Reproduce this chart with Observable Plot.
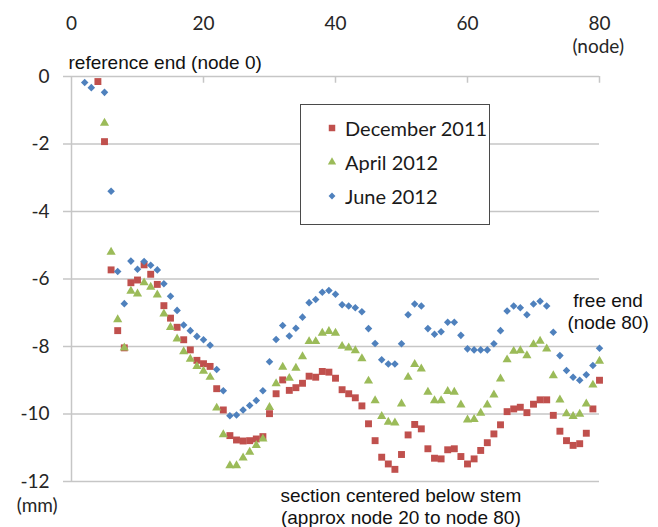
<!DOCTYPE html>
<html>
<head>
<meta charset="utf-8">
<script src="https://cdn.jsdelivr.net/npm/d3@7"></script>
<script src="https://cdn.jsdelivr.net/npm/@observablehq/plot@0.6"></script>
<style>
  html, body { margin: 0; padding: 0; background: #fff; }
  #wrap { position: relative; width: 658px; height: 527px; }
  #legend { position: absolute; left: 300px; top: 104px; width: 190px; height: 121px;
    border: 1.5px solid #4a4a4a; background: #fff; box-sizing: border-box;
    font-family: Lato, "Open Sans", sans-serif; font-size: 20px; color: #1a1a1a; }
  #legend .row { position: absolute; left: 0; height: 24px; display: flex; align-items: center; white-space: nowrap; }
  #legend svg { margin-left: 26px; margin-right: 8px; flex: none; }
</style>
</head>
<body>
<div id="wrap"></div>
<script>
const nodes = [2,3,4,5,6,7,8,9,10,11,12,13,14,15,16,17,18,19,20,21,22,23,24,25,26,27,28,29,30,31,32,33,34,35,36,37,38,39,40,41,42,43,44,45,46,47,48,49,50,51,52,53,54,55,56,57,58,59,60,61,62,63,64,65,66,67,68,69,70,71,72,73,74,75,76,77,78,79,80];

const december2011 = [null,null,-0.15,-1.93,-5.73,-7.53,-8.04,-6.11,-6.03,-5.58,-5.86,-6.16,-6.79,-7.16,-7.43,-7.80,-8.10,-8.41,-8.51,-8.59,-9.25,-9.88,-10.64,-10.77,-10.80,-10.79,-10.74,-10.67,-9.99,-9.40,-8.99,-9.30,-9.22,-9.09,-8.88,-8.91,-8.74,-8.76,-8.94,-9.28,-9.40,-9.52,-9.76,-10.29,-10.79,-11.28,-11.48,-11.64,-11.20,-10.62,-10.31,-10.44,-11.03,-11.31,-11.33,-11.06,-11.03,-11.26,-11.48,-11.33,-11.08,-10.85,-10.59,-10.32,-9.93,-9.85,-9.80,-9.96,-9.71,-9.58,-9.58,-10.04,-10.51,-10.79,-10.93,-10.88,-10.57,-9.85,-9.00];

const april2012 = [null,null,null,-1.38,-5.20,-7.20,-8.04,-6.36,-6.44,-6.11,-6.24,-6.47,-7.03,-7.43,-7.77,-8.15,-8.37,-8.59,-8.73,-8.91,-9.82,-10.61,-11.53,-11.53,-11.30,-11.13,-10.93,-10.74,-9.80,-9.10,-8.61,-8.94,-8.64,-8.30,-7.85,-7.85,-7.60,-7.55,-7.60,-7.99,-8.04,-8.12,-8.36,-9.02,-9.60,-10.07,-10.24,-10.26,-9.70,-8.91,-8.53,-8.66,-9.35,-9.60,-9.60,-9.33,-9.35,-9.73,-10.17,-10.16,-9.97,-9.73,-9.43,-8.96,-8.39,-8.14,-8.12,-8.27,-7.94,-7.84,-8.07,-8.86,-9.58,-9.99,-10.07,-10.00,-9.70,-9.14,-8.43];

const june2012 = [-0.18,-0.33,null,-0.47,-3.40,-5.78,-6.73,-5.47,-5.71,-5.48,-5.59,-5.73,-6.14,-6.51,-6.93,-7.36,-7.53,-7.70,-7.80,-7.96,-8.68,-9.31,-10.05,-10.03,-9.88,-9.75,-9.60,-9.31,-8.45,-7.79,-7.38,-7.69,-7.46,-7.13,-6.70,-6.61,-6.39,-6.34,-6.45,-6.76,-6.80,-6.85,-6.97,-7.47,-7.91,-8.39,-8.52,-8.52,-7.92,-7.06,-6.74,-6.80,-7.47,-7.64,-7.56,-7.28,-7.28,-7.67,-8.07,-8.10,-8.10,-8.10,-7.92,-7.53,-6.95,-6.80,-6.85,-7.06,-6.74,-6.66,-6.80,-7.58,-8.27,-8.71,-8.91,-9.00,-8.84,-8.56,-8.05];

const seriesNames = ["December 2011", "April 2012", "June 2012"];
const xTicks = [0, 20, 40, 60, 80];
const yTicks = [0, -2, -4, -6, -8, -10, -12];

const colors = ["#C0504D", "#9BBB59", "#4F81BD"];
const symbols = ["square", "triangle", "diamond2"];
const radii = [3.9, 3.4, 3.4];

function rowsOf(values) {
  const out = [];
  values.forEach((v, i) => { if (v !== null) out.push({node: nodes[i], value: v}); });
  return out;
}
const seriesData = [december2011, april2012, june2012].map(rowsOf);

const grid = "#c6c6c6";
const textFont = "'Liberation Sans', Arial, sans-serif";
const tickFont = "Lato, 'Open Sans', sans-serif";

const chart = Plot.plot({
  width: 658,
  height: 527,
  marginLeft: 71,
  marginRight: 59,
  marginTop: 76,
  marginBottom: 46,
  x: {domain: [0, 80]},
  y: {domain: [-12, 0]},
  style: {background: "#fff", overflow: "visible"},
  marks: [
    Plot.ruleY(yTicks, {stroke: grid, strokeWidth: 1.5}),
    Plot.ruleX([0], {stroke: grid, strokeWidth: 1.5}),
    Plot.ruleX(xTicks.slice(1), {y1: 0, y2: -0.2, stroke: grid, strokeWidth: 1.5}),
    Plot.axisX(xTicks, {anchor: "top", tickSize: 0, tickPadding: 47, fontSize: 19, fontFamily: tickFont, fill: "#262626", label: null, tickFormat: d => String(d)}),
    Plot.axisY(yTicks, {anchor: "left", tickSize: 8, stroke: grid, strokeWidth: 1.5, tickPadding: 14, fontSize: 19, fontFamily: tickFont, fill: "#262626", label: null, tickFormat: d => String(d)}),
    ...seriesData.map((d, k) => Plot.dot(d, {x: "node", y: "value", symbol: () => symbols[k], fill: colors[k], stroke: null, r: radii[k]})),
    Plot.text(["(node)"], {x: 79.8, y: 0.89, fontSize: 19, fontFamily: tickFont, fill: "#262626"}),
    Plot.text(["(mm)"], {x: -5.2, y: -12.72, fontSize: 19, fontFamily: tickFont, fill: "#262626"}),
    Plot.text(["reference end (node 0)"], {x: -0.45, y: 0.41, textAnchor: "start", fontSize: 19, fontFamily: textFont, fill: "#111"}),
    Plot.text(["free end"], {x: 81.3, y: -6.64, fontSize: 19, fontFamily: textFont, fill: "#111"}),
    Plot.text(["(node 80)"], {x: 81.3, y: -7.29, fontSize: 19, fontFamily: textFont, fill: "#111"}),
    Plot.text(["section centered below stem"], {x: 49.9, y: -12.44, fontSize: 19, fontFamily: textFont, fill: "#111"}),
    Plot.text(["(approx node 20 to node 80)"], {x: 49.9, y: -13.07, fontSize: 19, fontFamily: textFont, fill: "#111"})
  ]
});

const wrap = document.getElementById("wrap");
wrap.appendChild(chart);

// legend box inside the plot area
const legend = document.createElement("div");
legend.id = "legend";
const rowTops = [11, 45, 79];
seriesNames.forEach((name, k) => {
  const row = document.createElement("div");
  row.className = "row";
  row.style.top = rowTops[k] + "px";
  const sym = d3.symbol(k === 0 ? d3.symbolSquare : k === 1 ? d3.symbolTriangle : d3.symbolDiamond2, k === 0 ? 42 : 30)();
  row.innerHTML = `<svg width="10" height="10" viewBox="-5 -5 10 10"><path d="${sym}" fill="${colors[k]}"></path></svg><span>${name}</span>`;
  legend.appendChild(row);
});
wrap.appendChild(legend);
</script>
</body>
</html>
